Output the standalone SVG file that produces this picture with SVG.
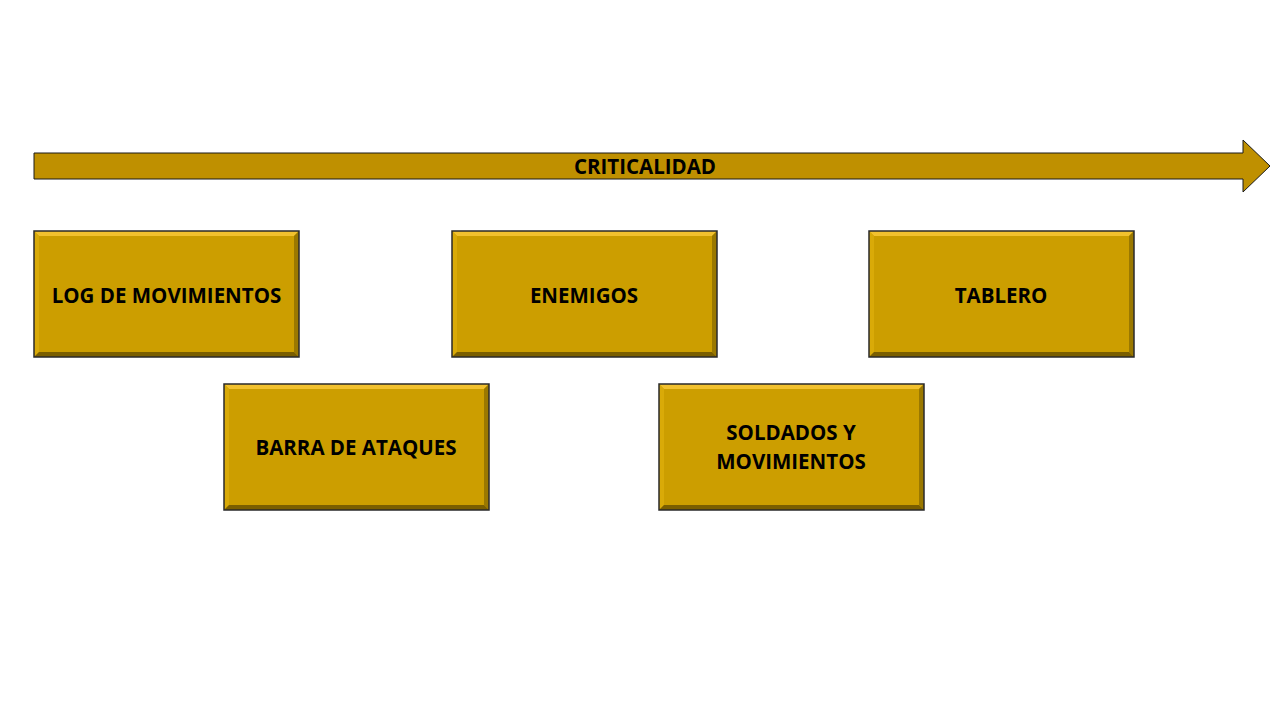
<svg xmlns="http://www.w3.org/2000/svg" width="1280" height="720" viewBox="0 0 1280 720">
<defs>
<style>
.lbl{font-family:"Open Sans","Liberation Sans",sans-serif;font-weight:bold;font-size:20.5px;fill:#000;text-anchor:middle}
.face{fill:#CC9E00;stroke:none}
.top{fill:#F2C12E}
.left{fill:#D9AA08}
.right{fill:#9A7800}
.bot{fill:#7A5E00}
.edge{fill:none;stroke:#2a2a2a;stroke-width:1.5}
</style>
<g id="bevel">
<rect x="0" y="0" width="265" height="126" class="face"/>
<polygon points="0,0 265,0 260,5 5,5" class="top"/>
<polygon points="0,0 5,5 5,121 0,126" class="left"/>
<polygon points="265,0 265,126 260,121 260,5" class="right"/>
<polygon points="0,126 5,121 260,121 265,126" class="bot"/>
<rect x="0" y="0" width="265" height="126" class="edge"/>
</g>
</defs>
<rect width="1280" height="720" fill="#fff"/>
<g id="connectors">
<g id="arrow">
<polygon points="34,153 1243,153 1243,140 1270,166 1243,192 1243,179 34,179" fill="#BF9000" stroke="#1a1a1a" stroke-width="1"/>
<text class="lbl" x="645" y="174">CRITICALIDAD</text>
</g>
</g>
<g id="node-log">
<use href="#bevel" x="34" y="231"/>
<text class="lbl" x="166.5" y="303">LOG DE MOVIMIENTOS</text>
</g>
<g id="node-enemigos">
<use href="#bevel" x="452" y="231"/>
<text class="lbl" x="584" y="303">ENEMIGOS</text>
</g>
<g id="node-tablero">
<use href="#bevel" x="869" y="231"/>
<text class="lbl" x="1001" y="303">TABLERO</text>
</g>
<g id="node-barra">
<use href="#bevel" x="224" y="384"/>
<text class="lbl" x="356" y="455">BARRA DE ATAQUES</text>
</g>
<g id="node-soldados">
<use href="#bevel" x="659" y="384"/>
<text class="lbl" x="791" y="440">SOLDADOS Y</text>
<text class="lbl" x="791" y="469">MOVIMIENTOS</text>
</g>
</svg>
